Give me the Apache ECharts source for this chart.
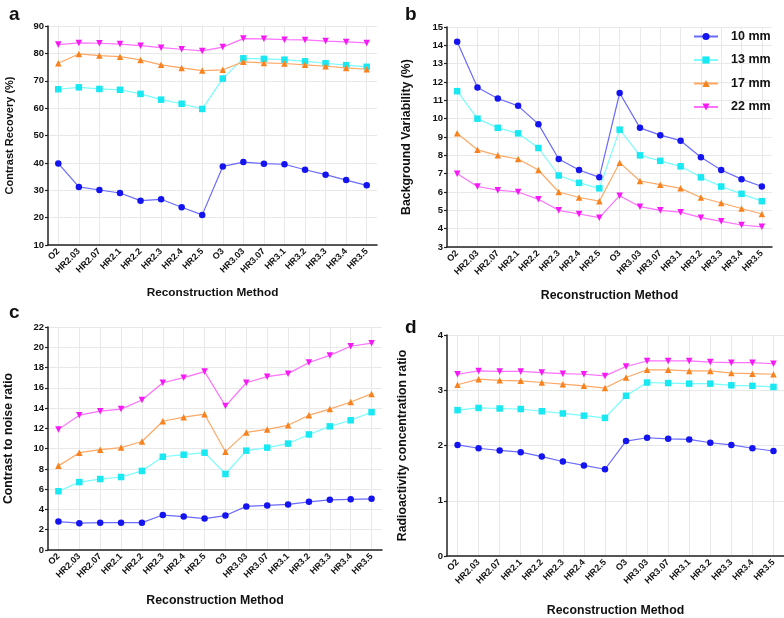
<!DOCTYPE html>
<html>
<head>
<meta charset="utf-8">
<script src="https://cdn.jsdelivr.net/npm/echarts@6/dist/echarts.min.js"></script>
<style>
  html, body { margin: 0; padding: 0; background: #fff; }
  #chart { width: 784px; height: 618px; }
</style>
</head>
<body>
<div id="chart"></div>
<script>
const categories = ["O2", "HR2.03", "HR2.07", "HR2.1", "HR2.2", "HR2.3", "HR2.4", "HR2.5",
  "O3", "HR3.03", "HR3.07", "HR3.1", "HR3.2", "HR3.3", "HR3.4", "HR3.5"];
const sizes = ["10 mm", "13 mm", "17 mm", "22 mm"];

// a - contrast recovery (%)
const recovery10 = [39.8, 31.2, 30.1, 29.0, 26.2, 26.7, 23.8, 21.0, 38.7, 40.3, 39.7, 39.5, 37.5, 35.7, 33.7, 31.8];
const recovery13 = [66.9, 67.6, 67.0, 66.7, 65.2, 63.1, 61.6, 59.7, 70.8, 78.2, 78.0, 77.7, 77.1, 76.4, 75.7, 75.1];
const recovery17 = [76.4, 79.8, 79.2, 78.8, 77.6, 75.8, 74.7, 73.7, 74.0, 76.9, 76.5, 76.3, 75.8, 75.3, 74.7, 74.2];
const recovery22 = [83.2, 83.8, 83.7, 83.4, 82.8, 82.1, 81.5, 80.9, 82.3, 85.4, 85.3, 85.0, 84.9, 84.5, 84.2, 83.8];

// b - background variability (%)
const variability10 = [14.2, 11.7, 11.1, 10.7, 9.7, 7.8, 7.2, 6.8, 11.4, 9.5, 9.1, 8.8, 7.9, 7.2, 6.7, 6.3];
const variability13 = [11.5, 10.0, 9.5, 9.2, 8.4, 6.9, 6.5, 6.2, 9.4, 8.0, 7.7, 7.4, 6.8, 6.3, 5.9, 5.5];
const variability17 = [9.2, 8.3, 8.0, 7.8, 7.2, 6.0, 5.7, 5.5, 7.6, 6.6, 6.4, 6.2, 5.7, 5.4, 5.1, 4.8];
const variability22 = [7.0, 6.3, 6.1, 6.0, 5.6, 5.0, 4.8, 4.6, 5.8, 5.2, 5.0, 4.9, 4.6, 4.4, 4.2, 4.1];

// c - contrast to noise ratio
const cnr10 = [2.8, 2.65, 2.7, 2.7, 2.7, 3.45, 3.3, 3.1, 3.4, 4.3, 4.4, 4.5, 4.75, 4.95, 5.0, 5.05];
const cnr13 = [5.8, 6.7, 7.0, 7.2, 7.8, 9.2, 9.4, 9.6, 7.5, 9.8, 10.1, 10.5, 11.4, 12.2, 12.8, 13.6];
const cnr17 = [8.3, 9.6, 9.9, 10.1, 10.7, 12.7, 13.1, 13.4, 9.7, 11.6, 11.9, 12.3, 13.3, 13.9, 14.6, 15.4];
const cnr22 = [11.9, 13.3, 13.7, 13.9, 14.8, 16.5, 17.0, 17.6, 14.2, 16.5, 17.1, 17.4, 18.5, 19.2, 20.1, 20.4];

// d - radioactivity concentration ratio
const ratio10 = [2.01, 1.95, 1.91, 1.88, 1.80, 1.71, 1.64, 1.57, 2.08, 2.14, 2.12, 2.11, 2.05, 2.01, 1.95, 1.90];
const ratio13 = [2.64, 2.68, 2.67, 2.66, 2.62, 2.58, 2.54, 2.50, 2.90, 3.14, 3.13, 3.12, 3.12, 3.09, 3.08, 3.06];
const ratio17 = [3.10, 3.20, 3.18, 3.17, 3.14, 3.11, 3.08, 3.04, 3.23, 3.37, 3.37, 3.35, 3.35, 3.31, 3.30, 3.29];
const ratio22 = [3.29, 3.35, 3.34, 3.34, 3.32, 3.30, 3.29, 3.26, 3.43, 3.53, 3.53, 3.53, 3.51, 3.50, 3.50, 3.48];

const font = "'Liberation Sans', Arial, sans-serif";
const markerColors = ["#1414f0", "#19e8f2", "#f7821e", "#f719f5"];
const lineColors = ["#6a6aff", "#7afcff", "#ffa866", "#ff70ff"];
const symbols = ["circle", "rect", "triangle", "triangle"];
const rotations = [0, 0, 0, 180];

const panels = [
  { letter: "a", name: "Contrast Recovery (%)", data: [recovery10, recovery13, recovery17, recovery22],
    grid: { left: 48, top: 26, width: 329, height: 219 }, min: 10, max: 90, interval: 10,
    yGap: 33, xGap: 42, yFont: 11, xFont: 11.8, letterPos: [4, 0] },
  { letter: "b", name: "Background Variability (%)", data: [variability10, variability13, variability17, variability22],
    grid: { left: 447, top: 27, width: 325, height: 220 }, min: 3, max: 15, interval: 1,
    yGap: 34, xGap: 43, yFont: 12.3, xFont: 12.3, letterPos: [400, 0] },
  { letter: "c", name: "Contrast to noise ratio", data: [cnr10, cnr13, cnr17, cnr22],
    grid: { left: 48, top: 327, width: 334, height: 223 }, min: 0, max: 22, interval: 2,
    yGap: 33, xGap: 45, yFont: 12.3, xFont: 12.3, letterPos: [4, 298] },
  { letter: "d", name: "Radioactivity concentration ratio", data: [ratio10, ratio13, ratio17, ratio22],
    grid: { left: 447, top: 335, width: 337, height: 225 }, min: 0, max: 4, interval: 1,
    yGap: 38, xGap: 49, yFont: 12.3, xFont: 12.3, letterPos: [400, 313] },
];

const grids = [];
const xAxes = [];
const yAxes = [];
const series = [];
const titles = [];

panels.forEach((p, i) => {
  grids.push(p.grid);
  titles.push({
    text: p.letter, left: p.letterPos[0], top: p.letterPos[1],
    textStyle: { fontFamily: font, fontSize: 19, fontWeight: "bold", color: "#111" },
  });
  xAxes.push({
    type: "category", gridIndex: i, data: categories, boundaryGap: true,
    name: "Reconstruction Method", nameLocation: "middle", nameGap: p.xGap,
    nameTextStyle: { fontFamily: font, fontSize: p.xFont, fontWeight: "bold", color: "#111" },
    axisLine: { lineStyle: { color: "#222", width: 1.5 } },
    axisTick: { alignWithLabel: true, length: 5, lineStyle: { color: "#222", width: 1.2 } },
    axisLabel: { rotate: 45, interval: 0, fontFamily: font, fontSize: 9, fontWeight: "bold", color: "#111", margin: 5 },
    splitLine: { show: true, alignWithLabel: true, lineStyle: { color: "#e8e8e8", width: 1 } },
  });
  yAxes.push({
    type: "value", gridIndex: i, min: p.min, max: p.max, interval: p.interval,
    name: p.name, nameLocation: "middle", nameGap: p.yGap,
    nameTextStyle: { fontFamily: font, fontSize: p.yFont, fontWeight: "bold", color: "#111" },
    axisLine: { show: true, lineStyle: { color: "#222", width: 1.5 } },
    axisTick: { show: true, length: 3, lineStyle: { color: "#222", width: 1.2 } },
    axisLabel: { fontFamily: font, fontSize: 9.5, fontWeight: "bold", color: "#111", margin: 4 },
    splitLine: { show: true, lineStyle: { color: "#e8e8e8", width: 1 } },
  });
  p.data.forEach((values, k) => {
    series.push({
      name: sizes[k], type: "line", xAxisIndex: i, yAxisIndex: i, data: values,
      symbol: symbols[k], symbolSize: 6.5, symbolRotate: rotations[k],
      itemStyle: { color: markerColors[k] },
      lineStyle: { color: lineColors[k], width: 1.2 },
      emphasis: { disabled: true },
      z: 2 + k,
    });
  });
});

const chart = echarts.init(document.getElementById("chart"), null, { renderer: "canvas" });
chart.setOption({
  backgroundColor: "#fff",
  animation: false,
  title: titles,
  legend: {
    data: sizes, orient: "vertical", left: 688, top: 25,
    itemWidth: 24, itemHeight: 9, itemGap: 10.5,
    textStyle: { fontFamily: font, fontSize: 12.5, fontWeight: "bold", color: "#111", padding: [0, 0, 0, 8] },
  },
  grid: grids,
  xAxis: xAxes,
  yAxis: yAxes,
  series: series,
});

window.onresize = function () {
  chart.resize();
};
</script>
</body>
</html>
